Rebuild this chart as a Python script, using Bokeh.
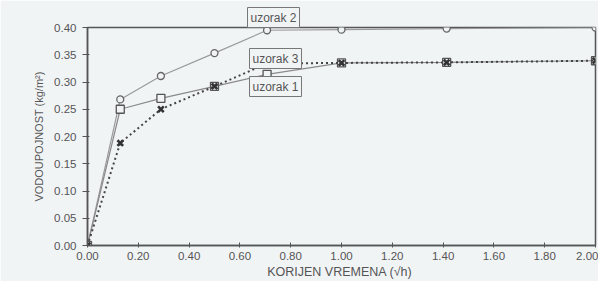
from bokeh.plotting import figure
from bokeh.models import Label, Title, FixedTicker, NumeralTickFormatter, Range1d
from bokeh.embed import file_html
from bokeh.resources import INLINE

# data (x = square root of time in hours)
t_sqrt = [0.0, 0.129, 0.289, 0.5, 0.707, 1.0, 1.414, 2.0]
uzorak_1 = [0.0, 0.250, 0.270, 0.292, 0.314, 0.335, 0.336, 0.339]
uzorak_2 = [0.0, 0.268, 0.311, 0.353, 0.395, 0.396, 0.398, 0.400]
uzorak_3 = [0.0, 0.188, 0.250, 0.292, 0.334, 0.335, 0.336, 0.339]
x_ticks = [0.0, 0.2, 0.4, 0.6, 0.8, 1.0, 1.2, 1.4, 1.6, 1.8, 2.0]
y_ticks = [0.0, 0.05, 0.10, 0.15, 0.20, 0.25, 0.30, 0.35, 0.40]
series_labels = ["uzorak 1", "uzorak 2", "uzorak 3"]

BG = "#f1f4f5"
AX = "#555555"
FONT = "Liberation Sans"

p = figure(
    frame_width=508, frame_height=218,
    min_border_left=87, min_border_right=3, min_border_top=27, min_border_bottom=30,
    x_range=Range1d(0, 2.0), y_range=Range1d(0, 0.40),
    output_backend="svg", toolbar_location=None,
    background_fill_color=BG, border_fill_color=BG,
)
p.grid.visible = False
p.outline_line_color = AX
p.outline_line_width = 1.5

for ax in (p.xaxis[0], p.yaxis[0]):
    ax.axis_line_color = AX
    ax.axis_line_width = 1.5
    ax.major_tick_line_color = AX
    ax.minor_tick_line_color = None
    ax.major_label_text_font = FONT
    ax.major_label_text_font_size = "11.5px"
    ax.major_label_text_color = "#555555"
    ax.axis_label_text_font = FONT
    ax.axis_label_text_font_style = "normal"
    ax.axis_label_text_color = "#555555"
    ax.formatter = NumeralTickFormatter(format="0.00")

p.xaxis.ticker = FixedTicker(ticks=x_ticks)
p.yaxis.ticker = FixedTicker(ticks=y_ticks)
p.xaxis.major_tick_in = 3
p.xaxis.major_tick_out = 2
p.yaxis.major_tick_in = 2
p.yaxis.major_tick_out = 5
p.xaxis.major_label_standoff = 4
p.yaxis.major_label_standoff = 6
p.xaxis.axis_label = "KORIJEN VREMENA  (\u221Ah)"
p.xaxis.axis_label_text_font_size = "12.5px"
p.xaxis.axis_label_standoff = 2
p.yaxis.axis_label = "VODOUPOJNOST (kg/m\u00B2)"
p.yaxis.axis_label_text_font_size = "11px"
p.yaxis.axis_label_standoff = 6

# uzorak 2 - circles
p.line(t_sqrt, uzorak_2, line_color="#9a9a9a", line_width=1.2)
p.scatter(t_sqrt, uzorak_2, marker="circle", size=7, line_color="#666666",
          fill_color=BG, line_width=1.3)
# uzorak 1 - squares
p.line(t_sqrt, uzorak_1, line_color="#8a8a8a", line_width=1.2)
p.scatter(t_sqrt, uzorak_1, marker="square", size=8, line_color="#555555",
          fill_color=BG, line_width=1.3)
# uzorak 3 - dotted with x marks
p.line(t_sqrt, uzorak_3, line_color="#444444", line_width=2, line_dash="2 3")
p.scatter(t_sqrt, uzorak_3, marker="x", size=8, line_color="#333333", line_width=2.6)

label_style = dict(text_font=FONT, text_font_size="12px", text_color="#555555",
                   border_line_color="#777777", border_line_width=1,
                   background_fill_color=BG, padding=3)

# label sitting above the frame: a title panel, so it is not clipped
p.add_layout(Title(text=series_labels[1], align="left", offset=160, standoff=0,
                   text_font_style="normal", **label_style), "above")

# boxed labels inside the frame, canvas pixel positions (left, top)
label_pos = {"uzorak 3": (249, 48), "uzorak 1": (249, 76)}
for name in (series_labels[2], series_labels[0]):
    lx, ly = label_pos[name]
    p.add_layout(Label(x=lx, y=ly, x_units="canvas", y_units="canvas", text=name,
                       text_baseline="top", text_align="left", **label_style))

open("out.html", "w").write(file_html(p, INLINE))
